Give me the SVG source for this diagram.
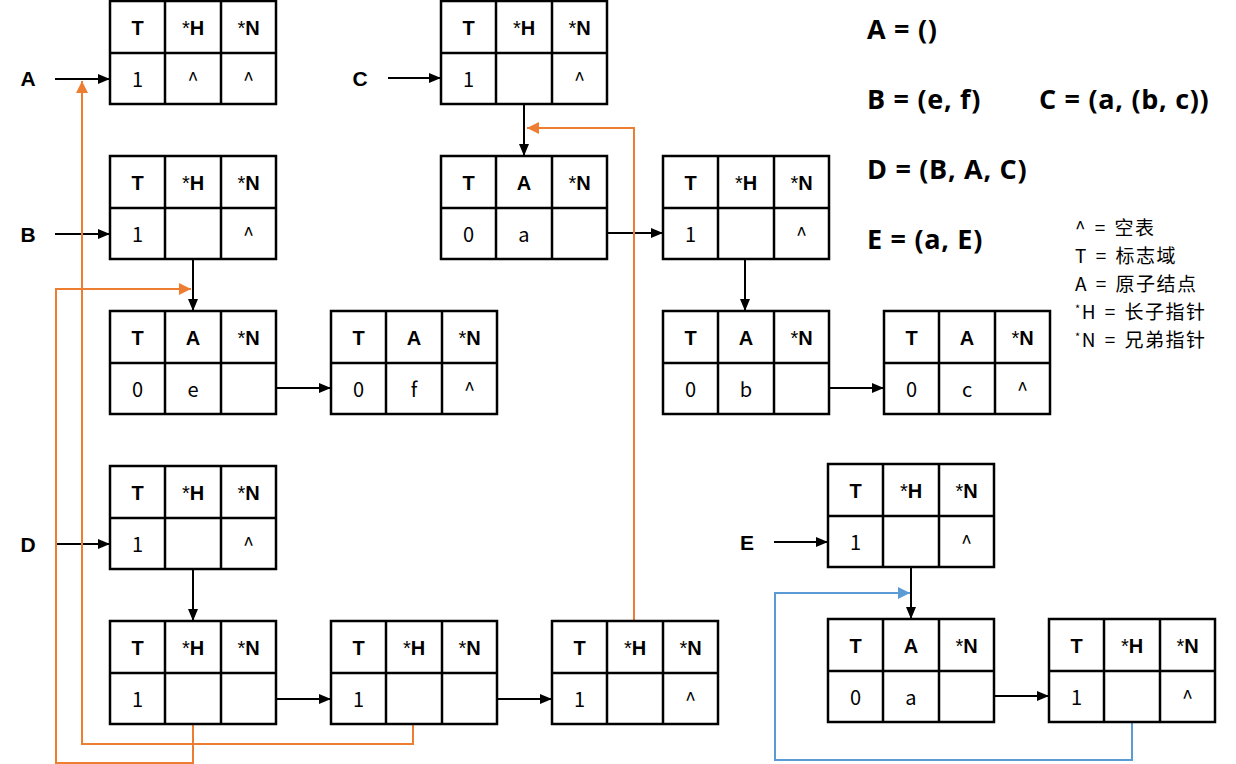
<svg xmlns="http://www.w3.org/2000/svg" xmlns:xlink="http://www.w3.org/1999/xlink" width="1236" height="764" viewBox="0 0 1236 764">
<style>
.grid{fill:#fff;stroke:#000;stroke-width:2.5}
.hd{font-family:"Liberation Sans",Arial,sans-serif;font-weight:bold;font-size:20px;text-anchor:middle;fill:#000}
.st{font-weight:normal}
.val{font-family:"Noto Sans CJK SC","DejaVu Sans",sans-serif;font-size:20px;text-anchor:middle;fill:#000}
.lbl{font-family:"Liberation Sans",Arial,sans-serif;font-weight:bold;font-size:21px;text-anchor:middle;fill:#000}
.eq{font-family:"Open Sans","Noto Sans CJK SC",sans-serif;font-weight:bold;font-size:27px;letter-spacing:0.7px;fill:#000}
.leg{font-family:"Noto Sans CJK SC",sans-serif;font-size:19px;letter-spacing:1.5px;word-spacing:2px;fill:#000}
.sm{font-size:11px}
.blk{fill:none;stroke:#000;stroke-width:2;marker-end:url(#ab)}
.org{fill:none;stroke:#ED7D31;stroke-width:2;marker-end:url(#ao)}
.blu{fill:none;stroke:#5B9BD5;stroke-width:2;marker-end:url(#au)}
</style>
<defs>
<g id="grid">
<rect class="grid" x="0" y="0" width="166" height="103"/>
<path class="grid" d="M55,0V103M111,0V103M0,52H166"/>
</g>
<marker id="ab" markerUnits="userSpaceOnUse" markerWidth="12" markerHeight="10" refX="12" refY="5" orient="auto"><path d="M0,0L12,5L0,10z" fill="#000"/></marker>
<marker id="ao" markerUnits="userSpaceOnUse" markerWidth="12" markerHeight="12" refX="12" refY="6" orient="auto"><path d="M0,0L12,6L0,12z" fill="#ED7D31"/></marker>
<marker id="au" markerUnits="userSpaceOnUse" markerWidth="12" markerHeight="12" refX="12" refY="6" orient="auto"><path d="M0,0L12,6L0,12z" fill="#5B9BD5"/></marker>
</defs>
<rect width="1236" height="764" fill="#fff"/>

<g id="connectors">
<path class="blk" d="M55,79H110"/>
<path class="blk" d="M55,234H110"/>
<path class="blk" d="M388,78H441"/>
<path class="blk" d="M55,544H110"/>
<path class="blk" d="M774,542H828"/>
<path class="blk" d="M193,259V311"/>
<path class="blk" d="M524,104V156"/>
<path class="blk" d="M745,259V311"/>
<path class="blk" d="M193,569V621"/>
<path class="blk" d="M911,567V619"/>
<path class="blk" d="M276,388H331"/>
<path class="blk" d="M607,233H663"/>
<path class="blk" d="M828,388H884"/>
<path class="blk" d="M276,699H331"/>
<path class="blk" d="M497,699H552"/>
<path class="blk" d="M994,696H1049"/>
<path class="org" d="M193,724V763H56V289H191"/>
<path class="org" d="M413,724V744H82V81"/>
<path class="org" d="M634,621V128H527"/>
<path class="blu" d="M1132,722V760H775V593H910"/>
</g>

<g id="labels">
<text class="lbl" x="28" y="86">A</text>
<text class="lbl" x="28" y="242">B</text>
<text class="lbl" x="360" y="86">C</text>
<text class="lbl" x="28" y="552">D</text>
<text class="lbl" x="747" y="550">E</text>
</g>

<g id="nodeA" transform="translate(110,1)">
<use xlink:href="#grid"/>
<text class="hd" x="27.5" y="34">T</text><text class="hd" x="83" y="34"><tspan class="st">*</tspan>H</text><text class="hd" x="138.5" y="34"><tspan class="st">*</tspan>N</text>
<text class="val" x="27.5" y="86">1</text><text class="val" x="83" y="86">^</text><text class="val" x="138.5" y="86">^</text>
</g>
<g id="nodeC" transform="translate(441,1)">
<use xlink:href="#grid"/>
<text class="hd" x="27.5" y="34">T</text><text class="hd" x="83" y="34"><tspan class="st">*</tspan>H</text><text class="hd" x="138.5" y="34"><tspan class="st">*</tspan>N</text>
<text class="val" x="27.5" y="86">1</text><text class="val" x="138.5" y="86">^</text>
</g>
<g id="nodeB" transform="translate(110,156)">
<use xlink:href="#grid"/>
<text class="hd" x="27.5" y="34">T</text><text class="hd" x="83" y="34"><tspan class="st">*</tspan>H</text><text class="hd" x="138.5" y="34"><tspan class="st">*</tspan>N</text>
<text class="val" x="27.5" y="86">1</text><text class="val" x="138.5" y="86">^</text>
</g>
<g id="nodeBe" transform="translate(110,311)">
<use xlink:href="#grid"/>
<text class="hd" x="27.5" y="34">T</text><text class="hd" x="83" y="34">A</text><text class="hd" x="138.5" y="34"><tspan class="st">*</tspan>N</text>
<text class="val" x="27.5" y="86">0</text><text class="val" x="83" y="86">e</text>
</g>
<g id="nodeBf" transform="translate(331,311)">
<use xlink:href="#grid"/>
<text class="hd" x="27.5" y="34">T</text><text class="hd" x="83" y="34">A</text><text class="hd" x="138.5" y="34"><tspan class="st">*</tspan>N</text>
<text class="val" x="27.5" y="86">0</text><text class="val" x="83" y="86">f</text><text class="val" x="138.5" y="86">^</text>
</g>
<g id="nodeCa" transform="translate(441,156)">
<use xlink:href="#grid"/>
<text class="hd" x="27.5" y="34">T</text><text class="hd" x="83" y="34">A</text><text class="hd" x="138.5" y="34"><tspan class="st">*</tspan>N</text>
<text class="val" x="27.5" y="86">0</text><text class="val" x="83" y="86">a</text>
</g>
<g id="nodeCs" transform="translate(663,156)">
<use xlink:href="#grid"/>
<text class="hd" x="27.5" y="34">T</text><text class="hd" x="83" y="34"><tspan class="st">*</tspan>H</text><text class="hd" x="138.5" y="34"><tspan class="st">*</tspan>N</text>
<text class="val" x="27.5" y="86">1</text><text class="val" x="138.5" y="86">^</text>
</g>
<g id="nodeCb" transform="translate(663,311)">
<use xlink:href="#grid"/>
<text class="hd" x="27.5" y="34">T</text><text class="hd" x="83" y="34">A</text><text class="hd" x="138.5" y="34"><tspan class="st">*</tspan>N</text>
<text class="val" x="27.5" y="86">0</text><text class="val" x="83" y="86">b</text>
</g>
<g id="nodeCc" transform="translate(884,311)">
<use xlink:href="#grid"/>
<text class="hd" x="27.5" y="34">T</text><text class="hd" x="83" y="34">A</text><text class="hd" x="138.5" y="34"><tspan class="st">*</tspan>N</text>
<text class="val" x="27.5" y="86">0</text><text class="val" x="83" y="86">c</text><text class="val" x="138.5" y="86">^</text>
</g>
<g id="nodeD" transform="translate(110,466)">
<use xlink:href="#grid"/>
<text class="hd" x="27.5" y="34">T</text><text class="hd" x="83" y="34"><tspan class="st">*</tspan>H</text><text class="hd" x="138.5" y="34"><tspan class="st">*</tspan>N</text>
<text class="val" x="27.5" y="86">1</text><text class="val" x="138.5" y="86">^</text>
</g>
<g id="nodeD1" transform="translate(110,621)">
<use xlink:href="#grid"/>
<text class="hd" x="27.5" y="34">T</text><text class="hd" x="83" y="34"><tspan class="st">*</tspan>H</text><text class="hd" x="138.5" y="34"><tspan class="st">*</tspan>N</text>
<text class="val" x="27.5" y="86">1</text>
</g>
<g id="nodeD2" transform="translate(331,621)">
<use xlink:href="#grid"/>
<text class="hd" x="27.5" y="34">T</text><text class="hd" x="83" y="34"><tspan class="st">*</tspan>H</text><text class="hd" x="138.5" y="34"><tspan class="st">*</tspan>N</text>
<text class="val" x="27.5" y="86">1</text>
</g>
<g id="nodeD3" transform="translate(552,621)">
<use xlink:href="#grid"/>
<text class="hd" x="27.5" y="34">T</text><text class="hd" x="83" y="34"><tspan class="st">*</tspan>H</text><text class="hd" x="138.5" y="34"><tspan class="st">*</tspan>N</text>
<text class="val" x="27.5" y="86">1</text><text class="val" x="138.5" y="86">^</text>
</g>
<g id="nodeE" transform="translate(828,464)">
<use xlink:href="#grid"/>
<text class="hd" x="27.5" y="34">T</text><text class="hd" x="83" y="34"><tspan class="st">*</tspan>H</text><text class="hd" x="138.5" y="34"><tspan class="st">*</tspan>N</text>
<text class="val" x="27.5" y="86">1</text><text class="val" x="138.5" y="86">^</text>
</g>
<g id="nodeEa" transform="translate(828,619)">
<use xlink:href="#grid"/>
<text class="hd" x="27.5" y="34">T</text><text class="hd" x="83" y="34">A</text><text class="hd" x="138.5" y="34"><tspan class="st">*</tspan>N</text>
<text class="val" x="27.5" y="86">0</text><text class="val" x="83" y="86">a</text>
</g>
<g id="nodeE2" transform="translate(1049,619)">
<use xlink:href="#grid"/>
<text class="hd" x="27.5" y="34">T</text><text class="hd" x="83" y="34"><tspan class="st">*</tspan>H</text><text class="hd" x="138.5" y="34"><tspan class="st">*</tspan>N</text>
<text class="val" x="27.5" y="86">1</text><text class="val" x="138.5" y="86">^</text>
</g>

<g id="equations">
<text class="eq" x="867" y="39">A = ()</text>
<text class="eq" x="867" y="109">B = (e, f)</text>
<text class="eq" x="1039" y="109">C = (a, (b, c))</text>
<text class="eq" x="867" y="179">D = (B, A, C)</text>
<text class="eq" x="867" y="249">E = (a, E)</text>
</g>
<g id="legend">
<text class="leg" x="1075" y="235">^ = 空表</text>
<text class="leg" x="1075" y="263">T = 标志域</text>
<text class="leg" x="1075" y="291">A = 原子结点</text>
<text class="leg" x="1075" y="319"><tspan class="sm" dy="-6">*</tspan><tspan dy="6">H = 长子指针</tspan></text>
<text class="leg" x="1075" y="347"><tspan class="sm" dy="-6">*</tspan><tspan dy="6">N = 兄弟指针</tspan></text>
</g>
</svg>
